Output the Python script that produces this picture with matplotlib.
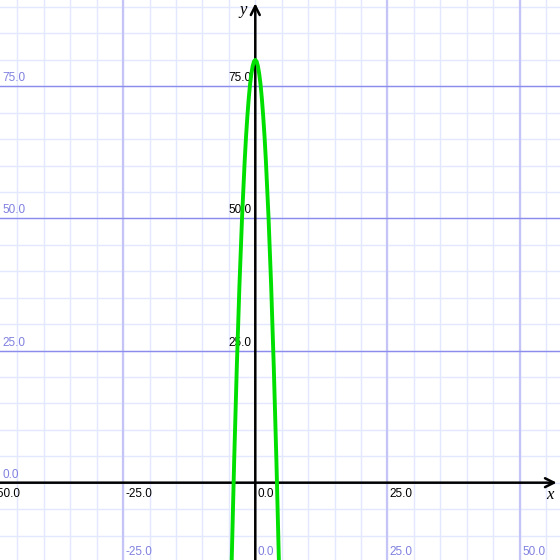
import matplotlib
matplotlib.use("Agg")
import matplotlib.pyplot as plt

# Curve points
curve_x = [-5.0, -4.5, -4.0, -3.5, -3.0, -2.5, -2.0, -1.75, -1.5, -1.25, -1.0,
           -0.75, -0.5, -0.25, 0.0, 0.25, 0.5, 0.75, 1.0, 1.25, 1.5, 1.75,
           2.0, 2.5, 3.0, 3.5, 4.0, 4.5, 5.0]
curve_y = [-38.8, -16.2, 4.0, 21.8, 37.3, 50.3, 61.0, 65.5, 69.3, 72.6, 75.3,
           77.3, 78.8, 79.7, 80.0, 79.7, 78.8, 77.3, 75.3, 72.6, 69.3, 65.5,
           61.0, 50.3, 37.3, 21.8, 4.0, -16.2, -38.8]

x_major = [-50, -25, 25, 50]
y_major = [25, 50, 75]
x_minor = list(range(-50, 60, 5))
y_minor = list(range(-15, 95, 5))
x_labels_axis = [-50, -25, 0, 25]
y_labels_axis = [25, 50, 75]
x_labels_edge = [-25, 0, 25, 50]
y_labels_edge = [0, 25, 50, 75]

XMIN, XMAX = -48.3, 57.65
YMIN, YMAX = -14.63, 91.33

plt.rcParams['font.family'] = ['Liberation Sans', 'DejaVu Sans']
fig = plt.figure(figsize=(5.6, 5.6), dpi=100)
ax = fig.add_axes([0, 0, 1, 1])
ax.set_xlim(XMIN, XMAX)
ax.set_ylim(YMIN, YMAX)
ax.axis('off')

minor_c = '#e4e8ff'
for v in x_minor:
    ax.axvline(v, color=minor_c, lw=1.0, zorder=0)
for v in y_minor:
    ax.axhline(v, color=minor_c, lw=1.0, zorder=0)
for v in x_major:
    ax.axvline(v, color='#c4c4f6', lw=1.6, zorder=1)
for v in y_major:
    ax.axhline(v, color='#8c8cec', lw=1.0, zorder=1)

# axes with arrows
ax.annotate('', xy=(XMAX - 0.1, 0), xytext=(XMIN - 1, 0),
            arrowprops=dict(arrowstyle='->', lw=1.8, color='black', mutation_scale=16),
            zorder=3, annotation_clip=False)
ax.annotate('', xy=(0, YMAX - 0.1), xytext=(0, YMIN - 1),
            arrowprops=dict(arrowstyle='->', lw=1.8, color='black', mutation_scale=16),
            zorder=3, annotation_clip=False)

ax.text(XMAX - 1.9, -0.9, 'x', family=['Liberation Serif', 'DejaVu Serif'],
        style='italic', fontsize=12, ha='center', va='top', zorder=5)
ax.text(-2.3, YMAX - 0.4, 'y', family=['Liberation Serif', 'DejaVu Serif'],
        style='italic', fontsize=12, ha='center', va='top', zorder=5)

fs = 8.5
blue = '#8080e0'
# black labels below x axis
for v in x_labels_axis:
    ax.annotate(f'{v:.1f}', xy=(v, 0), xytext=(2.5, -5), textcoords='offset pixels',
                ha='left', va='top', fontsize=fs, color='black', zorder=5,
                annotation_clip=False)
# black labels left of y axis
for v in y_labels_axis:
    ax.annotate(f'{v:.1f}', xy=(0, v), xytext=(-4, 2), textcoords='offset pixels',
                ha='right', va='bottom', fontsize=fs, color='black', zorder=2,
                annotation_clip=False)
# blue labels at left edge
for v in y_labels_edge:
    ax.annotate(f'{v:.1f}', xy=(XMIN, v), xytext=(2.5, 2), textcoords='offset pixels',
                ha='left', va='bottom', fontsize=fs, color=blue, zorder=5,
                annotation_clip=False)
# blue labels at bottom edge
for v in x_labels_edge:
    ax.annotate(f'{v:.1f}', xy=(v, YMIN), xytext=(2.5, 2), textcoords='offset pixels',
                ha='left', va='bottom', fontsize=fs, color=blue, zorder=5,
                annotation_clip=False)

ax.plot(curve_x, curve_y, color='#00e000', lw=2.8, zorder=4, solid_capstyle='butt')

fig.savefig('out.png', dpi=100)
